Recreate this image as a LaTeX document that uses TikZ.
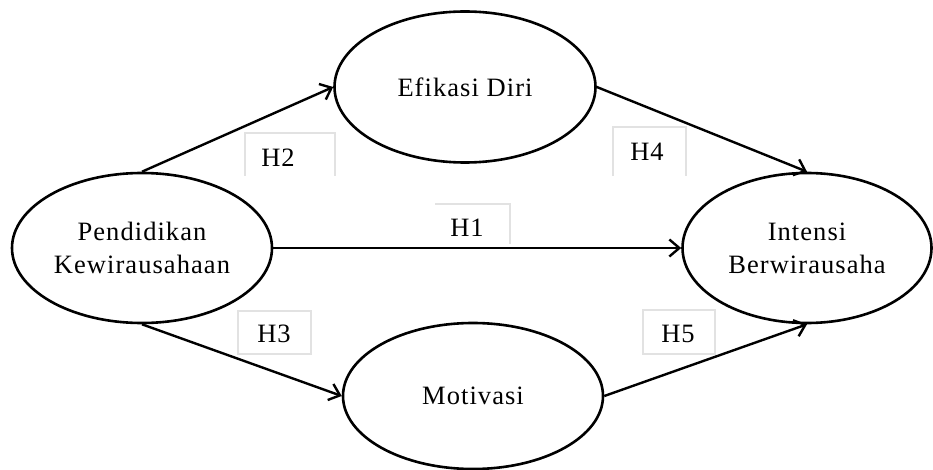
\documentclass[tikz,border=0pt]{standalone}
\usepackage{fontspec}
\setmainfont{Liberation Serif}[LetterSpace=4]
\usetikzlibrary{shapes.geometric,arrows.meta}
\definecolor{boxgray}{RGB}{226,226,226}
\begin{document}
\begin{tikzpicture}[x=1pt,y=-1pt,
  construct/.style={draw=black, line width=2.6pt, ellipse, inner sep=0pt,
    align=center, font=\fontsize{26.5}{33}\selectfont},
  path/.style={draw=black, line width=2.4pt,
    -{Straight Barb[length=10pt,width=17pt,line width=2.4pt]}},
  hlabel/.style={font=\fontsize{26.5}{30}\selectfont, inner sep=0pt},
  hbox/.style={draw=boxgray, line width=1.3pt}
]
\useasboundingbox (0,0) rectangle (933,470);

% constructs
\node[construct, minimum width=260pt, minimum height=150pt] (pk) at (142,248) {Pendidikan\\Kewirausahaan};
\node[construct, minimum width=261pt, minimum height=151pt] (ed) at (465,87) {Efikasi Diri};
\node[construct, minimum width=249pt, minimum height=150pt] (ib) at (807,248) {Intensi\\Berwirausaha};
\node[construct, minimum width=260pt, minimum height=146pt] (mo) at (473,396) {Motivasi};

% hypothesis label frames
\draw[hbox] (245,176) -- (245,133) -- (335,133) -- (335,176);
\draw[hbox] (613,176) -- (613,127) -- (686,127) -- (686,176);
\draw[hbox] (435,204) -- (510,204) -- (510,244);
\draw[hbox] (238,311) rectangle (311,354);
\draw[hbox] (643,310) rectangle (715,354);

% hypothesis labels
\node[hlabel] (h2) at (278,158) {H2};
\node[hlabel] (h4) at (647,152) {H4};
\node[hlabel] (h1) at (467,228) {H1};
\node[hlabel] (h3) at (274,334) {H3};
\node[hlabel] (h5) at (678,334) {H5};

% paths
\draw[path] (pk.north) -- (ed.west);
\draw[path] (pk.south) -- (mo.west);
\draw[path] (pk.east) -- (ib.west);
\draw[path] (ed.east) -- (ib.north);
\draw[path] (mo.east) -- (ib.south);
\end{tikzpicture}
\end{document}
